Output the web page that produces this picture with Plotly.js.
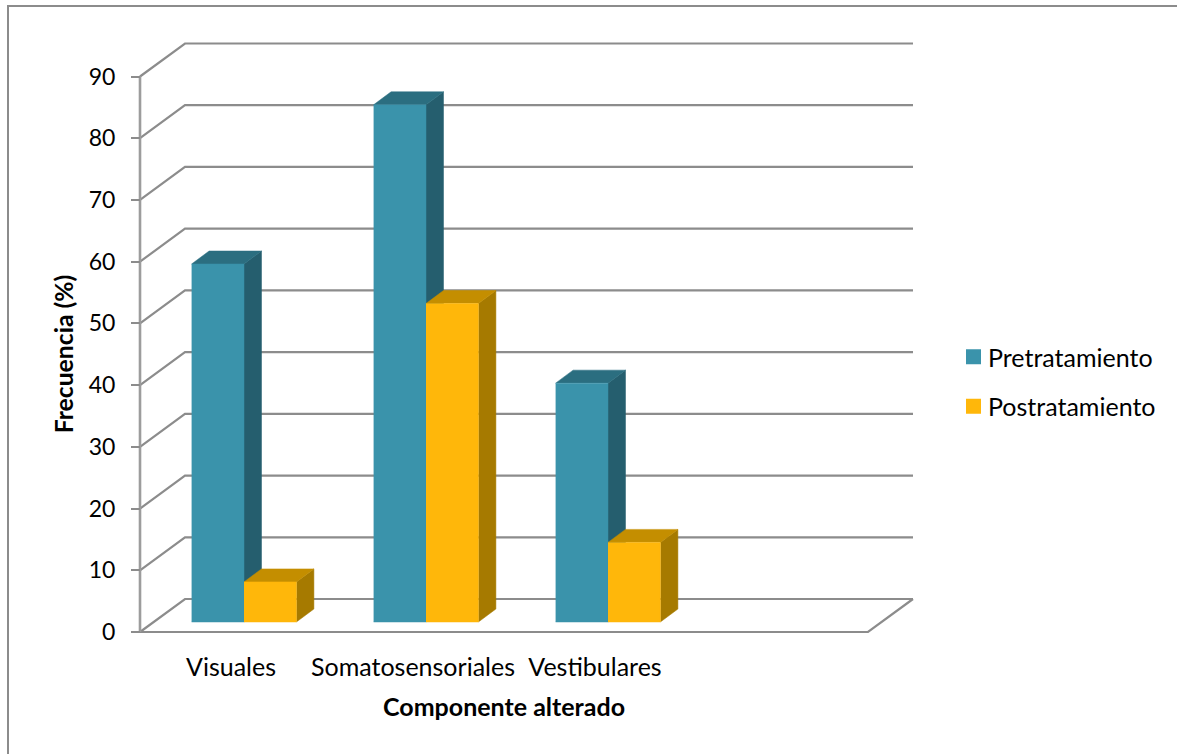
<!DOCTYPE html>
<html>
<head>
<meta charset="utf-8">
<script src="https://cdn.plot.ly/plotly-3.0.1.min.js"></script>
<style>html,body{margin:0;padding:0;background:#fff;overflow:hidden}</style>
</head>
<body>
<div id="chart" style="width:1177px;height:754px"></div>
<script>
// Frequencies (%) per altered component
const categories = ['Visuales', 'Somatosensoriales', 'Vestibulares'];
const emptySlots = 1;
const pretratamiento = [58, 83.8, 38.7];
const postratamiento = [6.5, 51.6, 12.9];
const gridValues = [0, 10, 20, 30, 40, 50, 60, 70, 80, 90];
const seriesNames = ['Pretratamiento', 'Postratamiento'];

const W = 1177, H = 754;
// Pixel frame of the front plane of the 3-D box
const left = 140, right = 868, top_ = 76.5, bottom = 632;
// Plot rectangle: wide enough for the back wall, and centred so the axis titles land in place
const plotL = 93, plotR = 915, plotT = 40, plotB = 668;

const slots = categories.length + emptySlots;
const maxValue = gridValues[gridValues.length - 1];
const toX = px => px * slots / (right - left);
const toY = px => px * maxValue / (bottom - top_);

// Perspective offsets: back wall, bar placement, and bar depth
const wallDx = toX(45), wallDy = toY(33);
const barDx = toX(13), barDy = toY(10);
const depthDx = toX(17.5), depthDy = toY(13);
const barW = toX(52.4);

const traces = [];
const GRID = '#8c8c8c';

function line(xs, ys, color, width) {
  traces.push({x: xs, y: ys, mode: 'lines', line: {color: color || GRID, width: width || 2.2},
    showlegend: false, hoverinfo: 'skip'});
}
function face(xs, ys, color) {
  traces.push({x: xs, y: ys, mode: 'lines', fill: 'toself', fillcolor: color,
    line: {color: color, width: 0.5}, showlegend: false, hoverinfo: 'skip'});
}

// Wall and floor grid
gridValues.forEach(v => {
  line([0, wallDx, slots + wallDx], [v, v + wallDy, v + wallDy]);
});
line([slots + wallDx, slots, 0], [wallDy, 0, 0]);
line([0, 0], [0, maxValue], '#9c9c9c', 2.6);

// One 3-D column: side, top, then front face
function column(x0, value, colors) {
  const x = x0 + barDx, x1 = x + barW, b = barDy, t = barDy + value;
  face([x1, x1 + depthDx, x1 + depthDx, x1], [b, b + depthDy, t + depthDy, t], colors.side);
  face([x, x + depthDx, x1 + depthDx, x1], [t, t + depthDy, t + depthDy, t], colors.top);
  face([x, x1, x1, x], [b, b, t, t], colors.front);
}
const teal = {front: '#3a93ab', side: '#255e6e', top: '#2b6e80'};
const gold = {front: '#ffb70a', side: '#a67a00', top: '#c48e00'};

categories.forEach((c, i) => {
  const centre = i + 0.5;
  column(centre - barW, pretratamiento[i], teal);
  column(centre, postratamiento[i], gold);
});

// Legend-only entries
[[seriesNames[0], teal.front], [seriesNames[1], gold.front]].forEach(([name, color], i) => {
  traces.push({x: [null], y: [null], mode: 'markers', name: name, legendgroup: 'g' + i,
    marker: {symbol: 'square', size: 15, color: color}, hoverinfo: 'skip'});
});

const FONT = 'Lato, Carlito, Calibri, sans-serif';
const paperX = px => (px - plotL) / (plotR - plotL);
const paperY = py => (plotB - py) / (plotB - plotT);

const layout = {
  width: W, height: H,
  margin: {l: plotL, r: W - plotR, t: plotT, b: H - plotB, pad: 0},
  paper_bgcolor: '#fff', plot_bgcolor: 'rgba(0,0,0,0)',
  font: {family: FONT, color: '#000', size: 25},
  hovermode: false,
  xaxis: {
    range: [toX(plotL - left), toX(plotR - left)],
    anchor: 'free', position: paperY(bottom),
    showgrid: false, zeroline: false, showline: false,
    tickmode: 'array', tickvals: categories.map((c, i) => i + 0.5), ticktext: categories,
    ticks: 'outside', ticklen: 13, tickcolor: 'rgba(0,0,0,0)', tickangle: 0,
    tickfont: {size: 25, family: FONT},
    title: {text: '<b>Componente alterado</b>', font: {size: 25, family: FONT}, standoff: 18}
  },
  yaxis: {
    range: [toY(bottom - plotB), toY(bottom - plotT)],
    anchor: 'free', position: paperX(left),
    showgrid: false, zeroline: false, showline: false,
    tickmode: 'array', tickvals: gridValues, ticktext: gridValues.map(String),
    ticks: 'outside', ticklen: 9, tickwidth: 2, tickcolor: GRID, ticklabelstandoff: 11,
    tickfont: {size: 23, family: FONT},
    title: {text: '<b>Frecuencia (%)</b>', font: {size: 24.7, family: FONT}, standoff: 7}
  },
  legend: {
    x: paperX(948), y: paperY(334), xanchor: 'left', yanchor: 'top',
    font: {size: 25, family: FONT}, tracegroupgap: 14, bgcolor: 'rgba(0,0,0,0)',
    itemclick: false, itemdoubleclick: false
  },
  // Outer frame: only its top and left edges are visible
  shapes: [
    {type: 'line', xref: 'paper', yref: 'paper', x0: paperX(8), x1: paperX(8), y0: paperY(6), y1: paperY(H),
      line: {color: GRID, width: 2}},
    {type: 'line', xref: 'paper', yref: 'paper', x0: paperX(7), x1: paperX(W), y0: paperY(6), y1: paperY(6),
      line: {color: GRID, width: 2}}
  ]
};

Plotly.newPlot('chart', traces, layout, {displayModeBar: false}).then(() => {
  // Tighten the gap between each legend swatch and its label
  document.querySelectorAll('#chart .legendsymbols').forEach(g => {
    g.setAttribute('transform', 'translate(5.5,0)');
  });
});
</script>
</body>
</html>
